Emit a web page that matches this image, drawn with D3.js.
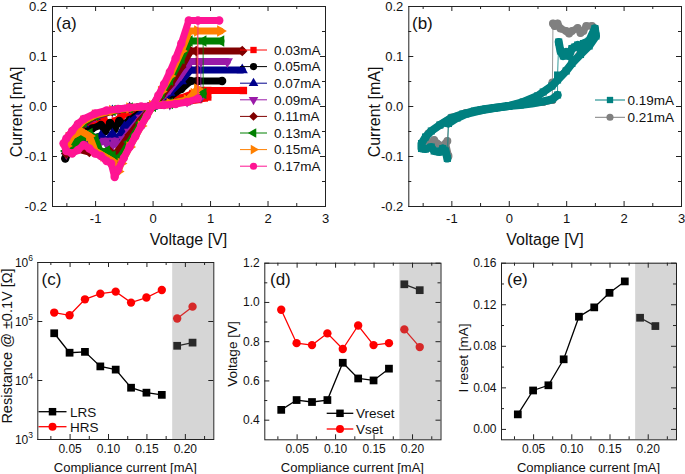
<!DOCTYPE html>
<html><head><meta charset="utf-8">
<script src="https://cdn.jsdelivr.net/npm/d3@7"></script>
<style>body{margin:0;background:#fff}svg{display:block}</style>
</head><body>
<svg id="c" width="685" height="474"></svg>
<script>
// ---------- DATA ----------
// Panel (a): I-V sweeps, each as list of dense segments [V, I(mA)]
const labelsA = ['0.03mA','0.05mA','0.07mA','0.09mA','0.11mA','0.13mA','0.15mA','0.17mA'];
const iv_003 = [
 [[0,0],[0.3,0.004],[0.6,0.009],[0.8,0.013],[0.9,0.016],[0.96,0.018]],
 [[0.96,0.031],[1.58,0.031],[0.85,0.031],[0.7,0.025],[0.5,0.016],[0.3,0.009],[0,0],[-0.2,-0.006],[-0.35,-0.01],[-0.45,-0.014],[-0.55,-0.022],[-0.65,-0.03],[-0.75,-0.038],[-0.85,-0.028],[-0.95,-0.036],[-1.05,-0.03],[-1.2,-0.045],[-1.35,-0.06],[-1.5,-0.085],[-1.45,-0.06],[-1.3,-0.04],[-1.1,-0.024],[-0.9,-0.015],[-0.6,-0.007],[-0.3,-0.003],[0,0]]
];
const iv_005 = [
 [[0,0],[0.3,0.004],[0.6,0.01],[0.79,0.016]],
 [[0.79,0.05],[1.21,0.05],[0.66,0.05],[0.5,0.034],[0.3,0.018],[0.15,0.008],[0,0],[-0.2,-0.012],[-0.4,-0.028],[-0.5,-0.037],[-0.58,-0.03],[-0.66,-0.046],[-0.74,-0.034],[-0.82,-0.05],[-0.9,-0.038],[-1.05,-0.045],[-1.2,-0.052],[-1.35,-0.07],[-1.52,-0.105],[-1.45,-0.07],[-1.3,-0.042],[-1.1,-0.025],[-0.8,-0.012],[-0.4,-0.004],[0,0]]
];
const iv_007 = [
 [[0,0],[0.3,0.004],[0.6,0.01],[0.78,0.016]],
 [[0.78,0.072],[1.56,0.072],[0.66,0.072],[0.5,0.05],[0.3,0.027],[0.15,0.012],[0,0],[-0.2,-0.016],[-0.4,-0.034],[-0.49,-0.042],[-0.55,-0.055],[-0.62,-0.068],[-0.7,-0.056],[-0.78,-0.07],[-0.9,-0.06],[-1.1,-0.066],[-1.3,-0.072],[-1.5,-0.09],[-1.4,-0.062],[-1.2,-0.036],[-1.0,-0.021],[-0.7,-0.01],[-0.4,-0.004],[0,0]]
];
const iv_009 = [
 [[0,0],[0.3,0.004],[0.6,0.01],[0.84,0.018]],
 [[0.84,0.089],[1.3,0.089],[0.66,0.089],[0.5,0.063],[0.3,0.034],[0.15,0.016],[0,0],[-0.2,-0.024],[-0.4,-0.052],[-0.5,-0.067],[-0.58,-0.082],[-0.66,-0.07],[-0.74,-0.086],[-0.82,-0.07],[-1.0,-0.076],[-1.2,-0.08],[-1.4,-0.082],[-1.5,-0.095],[-1.4,-0.065],[-1.2,-0.036],[-1.0,-0.021],[-0.7,-0.01],[-0.4,-0.004],[0,0]]
];
const iv_011 = [
 [[0,0],[0.3,0.005],[0.6,0.012],[0.76,0.02]],
 [[0.76,0.11],[1.56,0.11],[0.66,0.11],[0.5,0.078],[0.3,0.042],[0.15,0.02],[0,0],[-0.2,-0.028],[-0.4,-0.058],[-0.6,-0.09],[-0.69,-0.108],[-0.75,-0.09],[-0.85,-0.102],[-0.95,-0.085],[-1.1,-0.092],[-1.3,-0.086],[-1.5,-0.095],[-1.4,-0.066],[-1.2,-0.036],[-1.0,-0.02],[-0.7,-0.01],[-0.4,-0.004],[0,0]]
];
const iv_013 = [
 [[0,0],[0.3,0.005],[0.6,0.012],[0.8,0.02],[0.88,0.025]],
 [[0.88,0.13],[1.19,0.13],[0.64,0.13],[0.5,0.095],[0.3,0.052],[0.15,0.025],[0,0],[-0.2,-0.034],[-0.4,-0.072],[-0.55,-0.1],[-0.61,-0.117],[-0.7,-0.1],[-0.8,-0.09],[-0.9,-0.095],[-1.0,-0.065],[-1.1,-0.055],[-1.2,-0.06],[-1.35,-0.075],[-1.5,-0.09],[-1.4,-0.06],[-1.2,-0.032],[-1.0,-0.019],[-0.7,-0.009],[-0.4,-0.004],[0,0]]
];
const iv_015 = [
 [[0,0],[0.3,0.005],[0.6,0.012],[0.72,0.025],[0.78,0.034]],
 [[0.78,0.15],[1.18,0.15],[0.64,0.15],[0.5,0.11],[0.3,0.06],[0.15,0.029],[0,0],[-0.2,-0.04],[-0.4,-0.082],[-0.55,-0.115],[-0.6,-0.131],[-0.7,-0.11],[-0.85,-0.1],[-1.0,-0.09],[-1.1,-0.06],[-1.25,-0.05],[-1.4,-0.06],[-1.5,-0.08],[-1.4,-0.055],[-1.2,-0.03],[-1.0,-0.018],[-0.7,-0.009],[-0.4,-0.004],[0,0]]
];
const iv_017 = [
 [[0,0],[0.2,0.002],[0.4,0.004],[0.6,0.008],[0.79,0.015]],
 [[0.79,0.171],[1.16,0.171],[0.63,0.171],[0.5,0.125],[0.4,0.095],[0.3,0.068],[0.2,0.044],[0.1,0.021],[0,0],[-0.1,-0.02],[-0.2,-0.04],[-0.3,-0.061],[-0.4,-0.082],[-0.5,-0.104],[-0.6,-0.127],[-0.66,-0.142],[-0.72,-0.115],[-0.8,-0.11],[-0.9,-0.1],[-1.0,-0.095],[-1.1,-0.085],[-1.2,-0.078],[-1.3,-0.088],[-1.4,-0.095],[-1.5,-0.09],[-1.55,-0.075],[-1.5,-0.065],[-1.4,-0.05],[-1.3,-0.036],[-1.2,-0.026],[-1.0,-0.015],[-0.8,-0.009],[-0.6,-0.006],[-0.4,-0.003],[-0.2,-0.001],[0,0]]
];
// Panel (b)
const labelsB = ['0.19mA','0.21mA'];
const iv_019 = [
 [[0,0],[0.2,0.002],[0.4,0.005],[0.6,0.009],[0.75,0.013],[0.85,0.022]],
 [[0.85,0.062]],
 [[0.87,0.128],[0.9,0.11],[0.95,0.1],[1.0,0.108],[1.05,0.1],[1.1,0.115],[1.15,0.118],[1.2,0.122],[1.25,0.112],[1.3,0.125],[1.4,0.13],[1.5,0.155],[1.52,0.14],[1.4,0.12],[1.25,0.103],[1.1,0.085],[1.0,0.07],[0.85,0.052],[0.75,0.04],[0.6,0.028],[0.5,0.02],[0.25,0.008],[0,0],[-0.25,-0.004],[-0.5,-0.009],[-0.75,-0.016],[-0.9,-0.024],[-1.05,-0.035]],
 [[-1.07,-0.105],[-1.1,-0.09],[-1.15,-0.085],[-1.2,-0.092],[-1.3,-0.09],[-1.35,-0.082],[-1.45,-0.086],[-1.52,-0.085],[-1.52,-0.075],[-1.45,-0.062],[-1.35,-0.05],[-1.2,-0.038],[-1.0,-0.024],[-0.8,-0.016],[-0.6,-0.01],[-0.4,-0.006],[-0.2,-0.003],[0,0]]
];
const iv_021 = [
 [[0,0],[0.3,0.004],[0.6,0.008],[0.76,0.012]],
 [[0.76,0.047]],
 [[0.77,0.165],[0.8,0.16],[0.85,0.165],[0.9,0.155],[1.0,0.15],[1.05,0.145],[1.1,0.15],[1.2,0.156],[1.25,0.146],[1.3,0.15],[1.35,0.16],[1.45,0.16],[1.5,0.155],[1.45,0.14],[1.25,0.106],[1.0,0.071],[0.75,0.04],[0.5,0.02],[0.25,0.008],[0,0],[-0.25,-0.004],[-0.5,-0.009],[-0.75,-0.015],[-1.0,-0.026],[-1.05,-0.032]],
 [[-1.07,-0.07],[-1.1,-0.075],[-1.05,-0.1],[-1.15,-0.08],[-1.25,-0.075],[-1.3,-0.068],[-1.35,-0.075],[-1.45,-0.065],[-1.5,-0.075],[-1.4,-0.055],[-1.2,-0.038],[-1.0,-0.023],[-0.75,-0.014],[-0.5,-0.008],[0,0],[0.5,0.008],[0.76,0.012]]
];
// Panels (c)-(e)
const compliance = [0.03,0.05,0.07,0.09,0.11,0.13,0.15,0.17,0.19,0.21];
const lrs = [6.2e4,2.9e4,3.0e4,1.7e4,1.5e4,7.4e3,6.1e3,5.6e3,3.8e4,4.3e4];
const hrs = [1.39e5,1.25e5,2.33e5,2.9e5,3.15e5,2.05e5,2.5e5,3.35e5,1.1e5,1.75e5];
const vreset = [0.45,0.50,0.49,0.50,0.69,0.61,0.60,0.66,1.09,1.06];
const vset = [0.96,0.79,0.78,0.84,0.76,0.88,0.78,0.79,0.86,0.77];
const ireset = [0.014,0.037,0.042,0.067,0.108,0.117,0.131,0.142,0.107,0.099];
const shadedFrom = 0.1835;
const ivTicksX = [-1,0,1,2,3], ivTicksY = [-0.2,-0.1,0,0.1,0.2];
const ccTicks = [0.05,0.10,0.15,0.20];
const resTicks = [1e3,1e4,1e5,1e6];
const voltTicks = [0.4,0.6,0.8,1.0,1.2];
const iresetTicks = [0,0.04,0.08,0.12,0.16];

// ---------- STYLE ----------
const F = "'Liberation Sans', Arial, Helvetica, sans-serif";
const colorsA = ['#ff0000','#000000','#00008b','#9a1aa8','#800000','#008000','#ff8000','#ff1493'];
const shapesA = [['square',0],['circle',0],['triangle',0],['triangle',180],['square',45],['triangle',-90],['triangle',90],['circle',0]];
const colorsB = ['#008080','#808080'];
const shapesB = [['square',0],['circle',0]];

const svg = d3.select('#c');
const symType = s => s==='square'?d3.symbolSquare:(s==='circle'?d3.symbolCircle:d3.symbolTriangle);
function marker(g,x,y,shape,color,size){
  g.append('path').attr('d',d3.symbol().type(symType(shape[0])).size(size)())
   .attr('transform',`translate(${x},${y}) rotate(${shape[1]})`).attr('fill',color);
}

function frame(o){
  const g = svg.append('g');
  const [x0,x1]=o.x.range(), [y0,y1]=o.y.range();
  const mk=(axis,tr,vals,size,fmt,pad)=>{
    const a=g.append('g').attr('transform',tr)
      .call(axis.tickValues(vals).tickSize(size).tickPadding(pad||3).tickFormat(fmt||(()=>'')));
    a.select('.domain').remove();
    a.selectAll('line').attr('stroke','#222');
    a.selectAll('text').attr('font-size',o.fs).attr('font-family',F).attr('fill','#111');
    return a;
  };
  mk(d3.axisBottom(o.x),`translate(0,${y0})`,o.xMajor,-5,o.xFmt,o.xPad);
  mk(d3.axisTop(o.x),`translate(0,${y1})`,o.xMajor,-5);
  if(o.xMinor){mk(d3.axisBottom(o.x),`translate(0,${y0})`,o.xMinor,-3);mk(d3.axisTop(o.x),`translate(0,${y1})`,o.xMinor,-3);}
  const yl = mk(d3.axisLeft(o.y),`translate(${x0},0)`,o.yMajor,-5,o.yFmt,o.yPad);
  mk(d3.axisRight(o.y),`translate(${x1},0)`,o.yMajor,-5);
  if(o.yMinor){mk(d3.axisLeft(o.y),`translate(${x0},0)`,o.yMinor,-3);mk(d3.axisRight(o.y),`translate(${x1},0)`,o.yMinor,-3);}
  g.append('rect').attr('x',x0+0.5).attr('y',y1+0.5).attr('width',x1-x0).attr('height',y0-y1)
   .attr('fill','none').attr('stroke','#222');
  return yl;
}
function label(x,y,txt,fs,rot,anchor){
  return svg.append('text').attr('transform',`translate(${x},${y}) rotate(${rot||0})`)
   .attr('text-anchor',anchor||'middle').attr('font-family',F).attr('font-size',fs).attr('fill','#111').text(txt);
}
function ivCurve(g,x,y,segs,color,shape,bw,ms){
  const line=d3.line().x(d=>x(d[0])).y(d=>y(d[1]));
  const all=segs.flat();
  g.append('path').attr('d',line(all)).attr('fill','none').attr('stroke',color).attr('stroke-width',1).attr('opacity',0.8);
  segs.forEach(s=>{ if(s.length>1) g.append('path').attr('d',line(s)).attr('fill','none').attr('stroke',color)
     .attr('stroke-width',bw).attr('stroke-linejoin','round').attr('stroke-linecap','round'); });
  all.forEach(p=>marker(g,x(p[0]),y(p[1]),shape,color,ms));
}
const fmt1 = v=>v.toFixed(1), fmtInt = v=>String(v), fmt2 = v=>v.toFixed(2);

// ---------- PANEL (a) ----------
const xA=d3.scaleLinear().domain([-1.75,3]).range([52,325]);
const yA=d3.scaleLinear().domain([-0.2,0.2]).range([206,6]);
const gA=svg.append('g');
[iv_003,iv_005,iv_007,iv_009,iv_011,iv_013,iv_015,iv_017].forEach((s,i)=>ivCurve(gA,xA,yA,s,colorsA[i],shapesA[i],7,55));
frame({x:xA,y:yA,xMajor:ivTicksX,xMinor:[-1.5,-0.5,0.5,1.5,2.5],yMajor:ivTicksY,yMinor:[-0.15,-0.05,0.05,0.15],
  xFmt:fmtInt,yFmt:fmt1,xPad:8,yPad:5,fs:13});
labelsA.forEach((t,i)=>{
  const yy=50+i*16.6;
  gA.append('line').attr('x1',240).attr('x2',267).attr('y1',yy).attr('y2',yy).attr('stroke',colorsA[i]).attr('stroke-width',1);
  marker(gA,253.5,yy,shapesA[i],colorsA[i],40);
  gA.append('text').attr('x',274).attr('y',yy).attr('dy','0.36em').attr('font-family',F).attr('font-size',13.5).attr('fill','#111').text(t);
});
label(56,29,'(a)',17,0,'start');
label(22,112,'Current [mA]',16,-90);
label(188.5,245,'Voltage [V]',16);

// ---------- PANEL (b) ----------
const xB=d3.scaleLinear().domain([-1.75,3]).range([408.3,681]);
const yB=yA;
const gB=svg.append('g');
ivCurve(gB,xB,yB,iv_021,colorsB[1],shapesB[1],7,50);
ivCurve(gB,xB,yB,iv_019,colorsB[0],shapesB[0],8,50);
frame({x:xB,y:yB,xMajor:ivTicksX,xMinor:[-1.5,-0.5,0.5,1.5,2.5],yMajor:ivTicksY,yMinor:[-0.15,-0.05,0.05,0.15],
  xFmt:fmtInt,yFmt:fmt1,xPad:8,yPad:5,fs:13});
labelsB.forEach((t,i)=>{
  const yy=100+i*17.3;
  gB.append('line').attr('x1',595).attr('x2',625).attr('y1',yy).attr('y2',yy).attr('stroke',colorsB[i]).attr('stroke-width',1);
  marker(gB,610,yy,shapesB[i],colorsB[i],40);
  gB.append('text').attr('x',627.5).attr('y',yy).attr('dy','0.36em').attr('font-family',F).attr('font-size',13.5).attr('fill','#111').text(t);
});
label(412,29,'(b)',17,0,'start');
label(380,112,'Current [mA]',16,-90);
label(545,245,'Voltage [V]',16);

// ---------- helpers for (c)-(e) ----------
function scatterLines(g,x,y,vals,color,shape,size){
  const pts=compliance.map((c,i)=>[c,vals[i]]);
  const line=d3.line().x(d=>x(d[0])).y(d=>y(d[1]));
  [pts.slice(0,8),pts.slice(8)].forEach(p=>g.append('path').attr('d',line(p)).attr('fill','none').attr('stroke',color).attr('stroke-width',1.3));
  pts.forEach(p=>marker(g,x(p[0]),y(p[1]),shape,color,size));
}
function shade(g,x,y){
  const [x0,x1]=x.range(),[y0,y1]=y.range();
  g.append('rect').attr('x',x(shadedFrom)).attr('y',y1).attr('width',x1-x(shadedFrom)).attr('height',y0-y1)
   .attr('fill','#808080').attr('opacity',0.32);
}
function legendRows(g,rows,x1,x2,tx){
  rows.forEach(r=>{
    g.append('line').attr('x1',x1).attr('x2',x2).attr('y1',r.y).attr('y2',r.y).attr('stroke',r.c).attr('stroke-width',1.3);
    marker(g,(x1+x2)/2,r.y,r.s,r.c,r.s[0]==='square'?56:50);
    g.append('text').attr('x',tx).attr('y',r.y).attr('dy','0.36em').attr('font-family',F).attr('font-size',13.5).attr('fill','#111').text(r.t);
  });
}
const ccDomain=[0.008,0.237];
const ccMinor=[0.025,0.075,0.125,0.175,0.225];

// ---------- PANEL (c) ----------
const xC=d3.scaleLinear().domain(ccDomain).range([37.3,213.3]);
const yC=d3.scaleLog().domain([1e3,1e6]).range([439,262]);
const gC=svg.append('g');
scatterLines(gC,xC,yC,lrs,'#000',['square',0],60);
scatterLines(gC,xC,yC,hrs,'#ff0000',['circle',0],55);
shade(gC,xC,yC);
frame({x:xC,y:yC,xMajor:ccTicks,xMinor:ccMinor,yMajor:resTicks,xFmt:fmt2,yFmt:()=>'',xPad:5,yPad:5,fs:12});
resTicks.forEach(v=>{
  const t=svg.append('text').attr('x',33).attr('y',yC(v)).attr('dy','0.45em').attr('text-anchor','end')
    .attr('font-family',F).attr('font-size',12).attr('fill','#111');
  t.append('tspan').text('10');
  t.append('tspan').attr('dy',-6).attr('font-size',8.5).text(Math.round(Math.log10(v)));
});
legendRows(gC,[{y:411.7,c:'#000',s:['square',0],t:'LRS'},{y:426.7,c:'#ff0000',s:['circle',0],t:'HRS'}],38.5,66.5,70);
label(41.5,285,'(c)',17,0,'start');
label(12,346,'Resistance @ ±0.1V [Ω]',14.5,-90);
label(125.3,471.5,'Compliance current [mA]',13);

// ---------- PANEL (d) ----------
const xD=d3.scaleLinear().domain(ccDomain).range([264.3,440.5]);
const yD=d3.scaleLinear().domain([0.3,1.2]).range([439.3,262.7]);
const gD=svg.append('g');
scatterLines(gD,xD,yD,vreset,'#000',['square',0],60);
scatterLines(gD,xD,yD,vset,'#ff0000',['circle',0],55);
shade(gD,xD,yD);
frame({x:xD,y:yD,xMajor:ccTicks,xMinor:ccMinor,yMajor:voltTicks,yMinor:[0.5,0.7,0.9,1.1],xFmt:fmt2,yFmt:fmt1,xPad:5,yPad:4.5,fs:12});
legendRows(gD,[{y:413.3,c:'#000',s:['square',0],t:'Vreset'},{y:429,c:'#ff0000',s:['circle',0],t:'Vset'}],326.7,353.3,356);
label(270,285,'(d)',17,0,'start');
label(237,354,'Voltage [V]',13.5,-90);
label(352.4,471.5,'Compliance current [mA]',13);

// ---------- PANEL (e) ----------
const xE=d3.scaleLinear().domain(ccDomain).range([501,676]);
const yE=d3.scaleLinear().domain([-0.01,0.16]).range([439.3,262.7]);
const gE=svg.append('g');
scatterLines(gE,xE,yE,ireset,'#000',['square',0],60);
shade(gE,xE,yE);
frame({x:xE,y:yE,xMajor:ccTicks,xMinor:ccMinor,yMajor:iresetTicks,yMinor:[0.02,0.06,0.10,0.14],xFmt:fmt2,yFmt:fmt2,xPad:5,yPad:4.5,fs:12});
label(507,285,'(e)',17,0,'start');
label(468,358,'I reset [mA]',13.5,-90);
label(588.5,471.5,'Compliance current [mA]',13);
</script>
</body></html>
